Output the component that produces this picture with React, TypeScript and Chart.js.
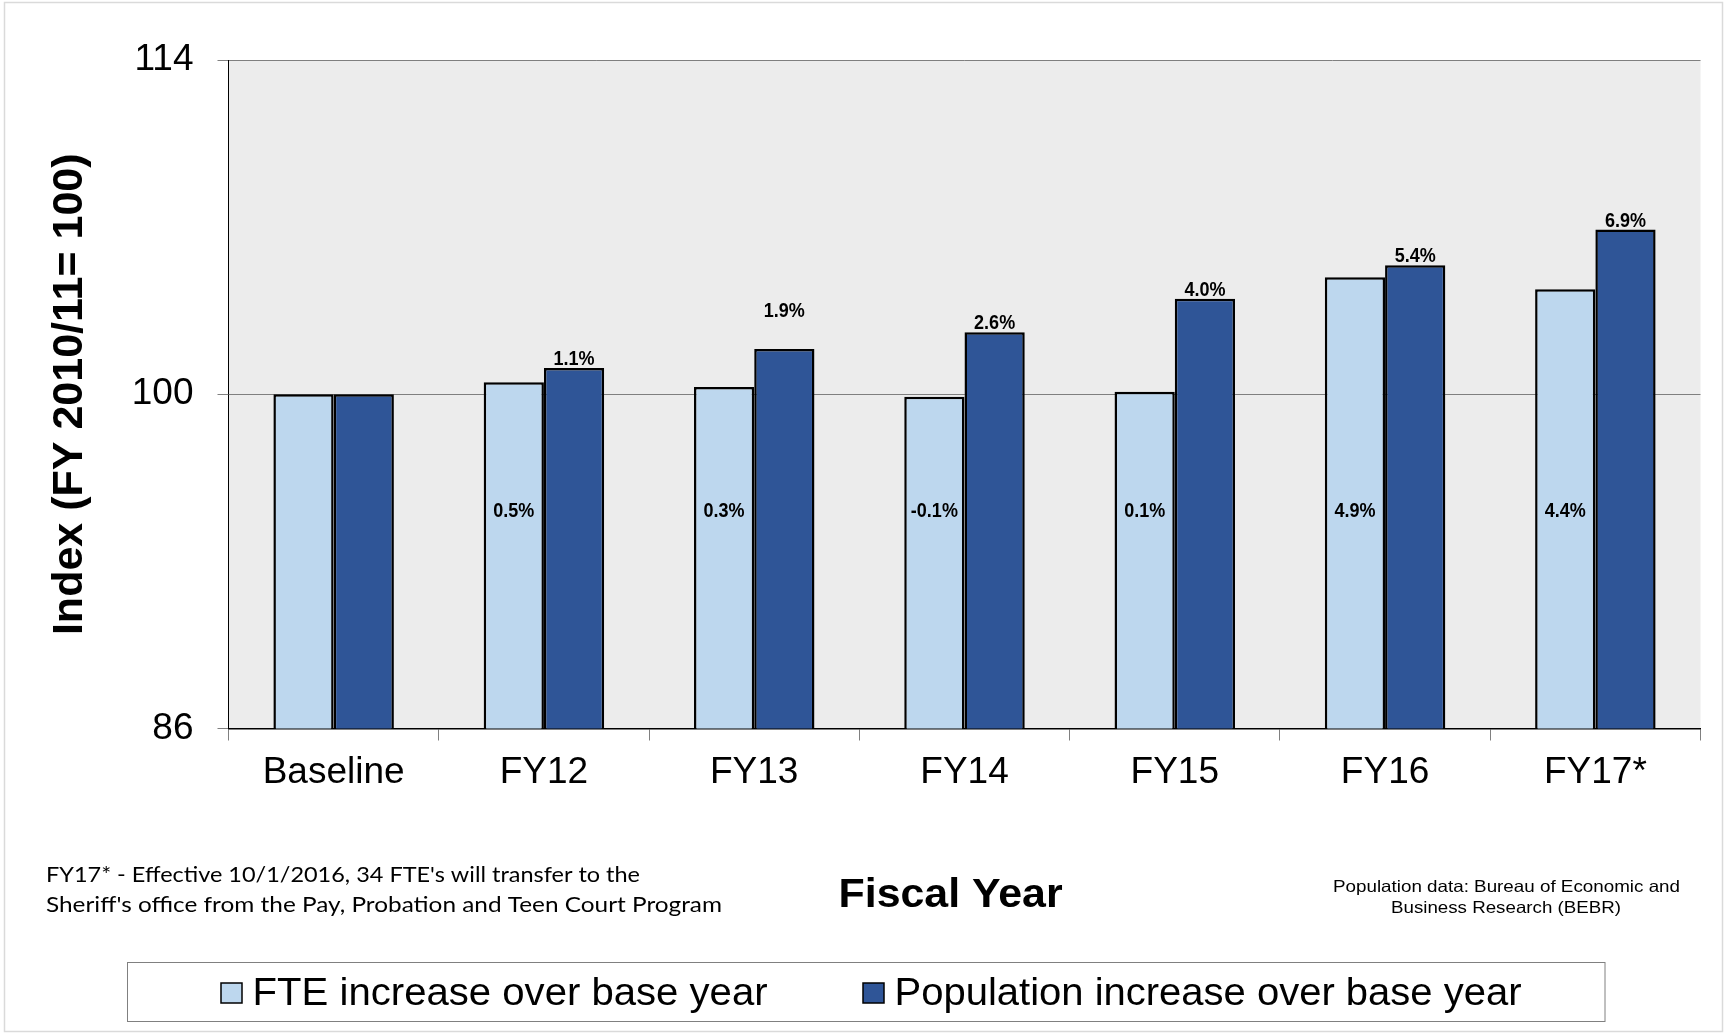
import React, { useEffect, useRef } from "react";
import { Chart, registerables } from "chart.js";

Chart.register(...registerables);

const categories = ["Baseline", "FY12", "FY13", "FY14", "FY15", "FY16", "FY17*"];
const fteIndex = [100, 100.5, 100.3, 99.9, 100.1, 104.9, 104.4];
const popIndex = [100, 101.1, 101.9, 102.6, 104.0, 105.4, 106.9];
const fteLabels = ["", "0.5%", "0.3%", "-0.1%", "0.1%", "4.9%", "4.4%"];
const popLabels = ["", "1.1%", "1.9%", "2.6%", "4.0%", "5.4%", "6.9%"];
const yTicks = [86, 100, 114];
const seriesNames = ["FTE increase over base year", "Population increase over base year"];
const xTitle = "Fiscal Year";
const yTitle = "Index (FY 2010/11= 100)";
const footnoteLines = [
  "FY17* - Effective 10/1/2016, 34 FTE's will transfer to the",
  "Sheriff's office from the Pay, Probation and Teen Court Program",
];
const sourceLines = ["Population data: Bureau of Economic and", "Business Research (BEBR)"];

const FONT = '"Liberation Sans", Arial, Helvetica, sans-serif';
const LIGHT = "#BDD7EE";
const DARK = "#2F5597";

function drawFit(
  ctx: CanvasRenderingContext2D,
  text: string,
  x: number,
  y: number,
  font: string,
  targetW: number,
  align: CanvasTextAlign
) {
  ctx.save();
  ctx.font = font;
  const w = ctx.measureText(text).width;
  const s = targetW / w;
  ctx.translate(x, y);
  ctx.scale(s, 1);
  ctx.textAlign = align;
  ctx.textBaseline = "alphabetic";
  ctx.fillText(text, 0, 0);
  ctx.restore();
}

function drawCondensed(
  ctx: CanvasRenderingContext2D,
  text: string,
  x: number,
  y: number,
  sx: number,
  baseline: CanvasTextBaseline
) {
  ctx.save();
  ctx.translate(x, y);
  ctx.scale(sx, 1);
  ctx.textAlign = "center";
  ctx.textBaseline = baseline;
  ctx.fillText(text, 0, 0);
  ctx.restore();
}

const decorPlugin = {
  id: "decor",
  beforeDraw(chart: any) {
    const { ctx, chartArea, width, height } = chart;
    ctx.save();
    ctx.fillStyle = "#ffffff";
    ctx.fillRect(0, 0, width, height);
    ctx.fillStyle = "#ECECEC";
    ctx.fillRect(chartArea.left, chartArea.top, chartArea.right - chartArea.left, chartArea.bottom - chartArea.top);
    ctx.strokeStyle = "#dadada";
    ctx.lineWidth = 1.5;
    ctx.strokeRect(4.5, 2.5, width - 8, height - 5);
    ctx.restore();
  },
  afterDatasetsDraw(chart: any) {
    const { ctx } = chart;
    const yScale = chart.scales.y;
    ctx.save();
    ctx.fillStyle = "#000";
    ctx.font = `bold 20px ${FONT}`;
    const fteMeta = chart.getDatasetMeta(0);
    const popMeta = chart.getDatasetMeta(1);
    const fteY = yScale.getPixelForValue(95.1);
    const popLift = [0, 0, 29, 0, 0, 0, 0];
    fteMeta.data.forEach((bar: any, i: number) => {
      if (!fteLabels[i]) return;
      drawCondensed(ctx, fteLabels[i], bar.x, fteY, 0.9, "middle");
    });
    popMeta.data.forEach((bar: any, i: number) => {
      if (!popLabels[i]) return;
      drawCondensed(ctx, popLabels[i], bar.x, bar.y - 3 - popLift[i], 0.9, "alphabetic");
    });
    ctx.restore();
  },
  afterDraw(chart: any) {
    const { ctx } = chart;
    ctx.save();
    ctx.fillStyle = "#000";
    drawFit(ctx, footnoteLines[0], 46, 881.7, `21.5px Lato, "Open Sans", sans-serif`, 594, "left");
    drawFit(ctx, footnoteLines[1], 46, 911.7, `21.5px Lato, "Open Sans", sans-serif`, 676, "left");
    drawFit(ctx, xTitle, 950.6, 907.3, `bold 41px ${FONT}`, 224, "center");
    drawFit(ctx, sourceLines[0], 1506.5, 891.7, `16.5px ${FONT}`, 347, "center");
    drawFit(ctx, sourceLines[1], 1506, 913.3, `16.5px ${FONT}`, 230, "center");
    ctx.strokeStyle = "#808080";
    ctx.lineWidth = 1;
    ctx.strokeRect(127.5, 962.5, 1477.5, 59);
    const ds = chart.data.datasets;
    const items = [
      { sx: 221, tx: 252.6, tw: 515 },
      { sx: 863, tx: 894.5, tw: 627 },
    ];
    items.forEach((it, i) => {
      ctx.fillStyle = ds[i].backgroundColor;
      ctx.fillRect(it.sx, 983, 21, 20);
      ctx.strokeStyle = "#000";
      ctx.lineWidth = 1.5;
      ctx.strokeRect(it.sx, 983, 21, 20);
      ctx.fillStyle = "#000";
      drawFit(ctx, ds[i].label, it.tx, 1005, `38px ${FONT}`, it.tw, "left");
    });
    ctx.restore();
  },
};

export default function App() {
  const ref = useRef<HTMLCanvasElement>(null);
  useEffect(() => {
    const chart = new Chart(ref.current as HTMLCanvasElement, {
      type: "bar",
      data: {
        labels: categories,
        datasets: [
          {
            label: seriesNames[0],
            data: fteIndex,
            backgroundColor: LIGHT,
            borderColor: "#000",
            borderWidth: 2.5,
            categoryPercentage: 0.573,
            barPercentage: 1.0,
          },
          {
            label: seriesNames[1],
            data: popIndex,
            backgroundColor: DARK,
            borderColor: "#000",
            borderWidth: 2.5,
            categoryPercentage: 0.573,
            barPercentage: 1.0,
          },
        ],
      },
      options: {
        responsive: false,
        animation: false,
        devicePixelRatio: 1,
        layout: { padding: { top: 60, right: 25.5, left: 0, bottom: 0 } },
        plugins: {
          legend: { display: false },
          tooltip: { enabled: false },
        },
        scales: {
          x: {
            grid: {
              offset: true,
              drawOnChartArea: false,
              drawTicks: true,
              tickLength: 12,
              color: "#808080",
            },
            border: { color: "#000", width: 1.5 },
            ticks: {
              color: "#000",
              font: { family: FONT, size: 37 },
              padding: 10,
              maxRotation: 0,
              autoSkip: false,
            },
            afterFit: (s: any) => {
              s.height = 305.5;
            },
          },
          y: {
            min: 86,
            max: 114,
            afterBuildTicks: (s: any) => {
              s.ticks = yTicks.map((v) => ({ value: v }));
            },
            grid: {
              color: (c: any) => (c.tick && c.tick.value === 86 ? "rgba(0,0,0,0)" : "#7f7f7f"),
              tickColor: "#808080",
              tickLength: 11,
              lineWidth: 1,
            },
            border: { color: "#000", width: 1 },
            ticks: {
              color: "#000",
              font: { family: FONT, size: 37 },
              padding: 24,
            },
            title: {
              display: true,
              text: yTitle,
              color: "#000",
              font: { family: FONT, size: 43, weight: "bold" },
              padding: { top: 44, bottom: 0 },
            },
            afterFit: (s: any) => {
              s.width = 228.5;
            },
          },
        },
      },
      plugins: [decorPlugin],
    } as any);
    return () => chart.destroy();
  }, []);
  return (
    <div style={{ position: "fixed", left: 0, top: 0, width: 1726, height: 1034, background: "#fff" }}>
      <canvas ref={ref} width={1726} height={1034} />
    </div>
  );
}
